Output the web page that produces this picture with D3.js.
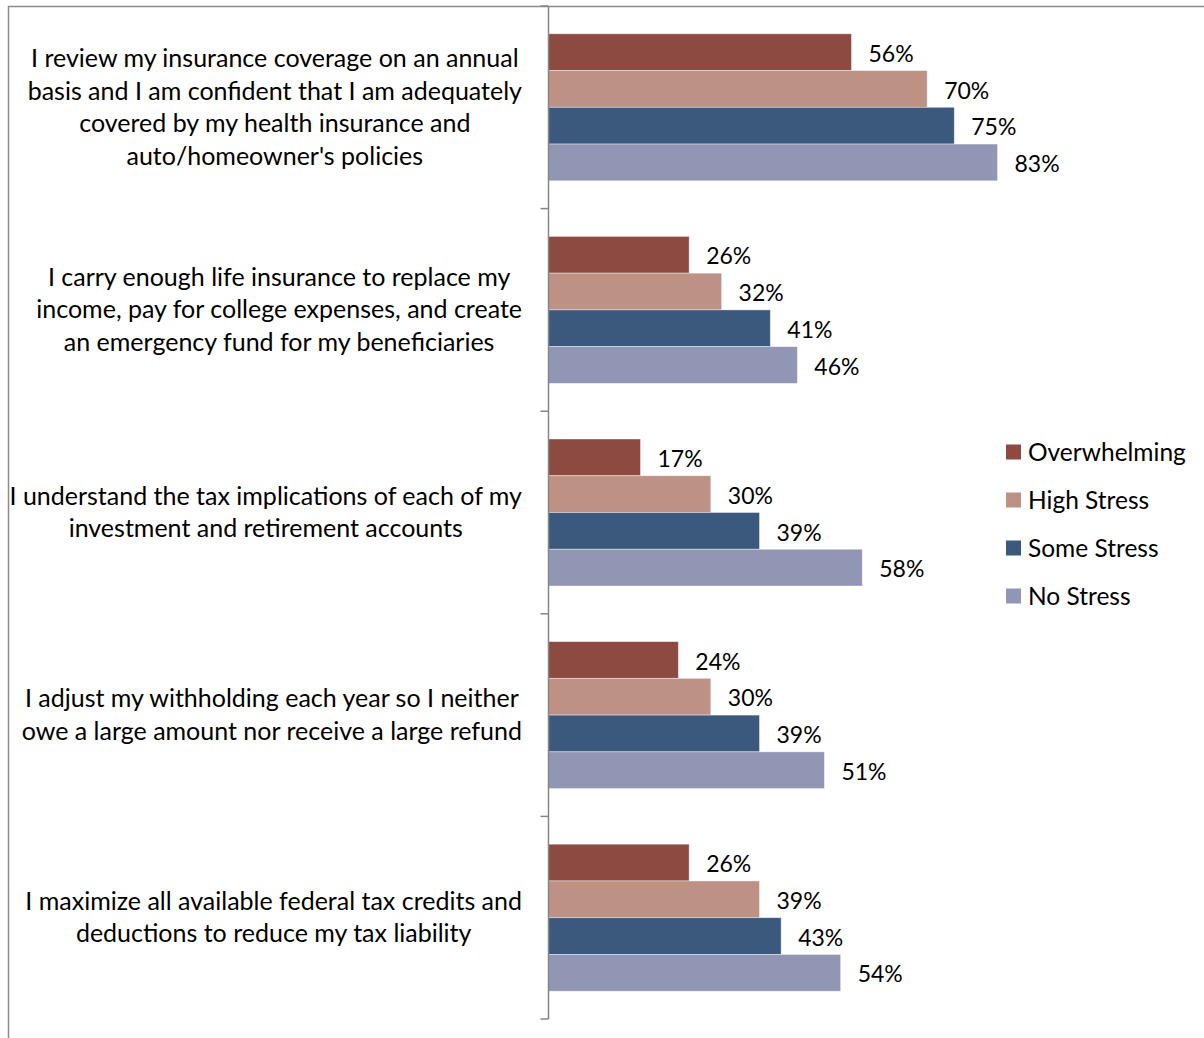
<!DOCTYPE html>
<html lang="en">
<head>
    <meta charset="UTF-8">
    <title>Insurance and tax habits by stress level</title>
    <script src="https://cdn.jsdelivr.net/npm/d3@7"></script>
    <style>
        body { margin: 0; background: #fff; }
        text { font-family: Lato, "Open Sans", sans-serif; fill: #000; }
    </style>
</head>
<body>
    <script>
        // data
        const categories = [
            ["I review my insurance coverage on an annual", "basis and I am confident that I am adequately", "covered by my health insurance and", "auto/homeowner's policies"],
            ["I carry enough life insurance to replace my", "income, pay for college expenses, and create", "an emergency fund for my beneficiaries"],
            ["I understand the tax implications of each of my", "investment and retirement accounts"],
            ["I adjust my withholding each year so I neither", "owe a large amount nor receive a large refund"],
            ["I maximize all available federal tax credits and", "deductions to reduce my tax liability"]
        ];
        const seriesNames = ["Overwhelming", "High Stress", "Some Stress", "No Stress"];
        const overwhelming = [56, 26, 17, 24, 26];
        const highStress = [70, 32, 30, 30, 39];
        const someStress = [75, 41, 39, 39, 43];
        const noStress = [83, 46, 58, 51, 54];
        const seriesValues = [overwhelming, highStress, someStress, noStress];
        const colors = ["#8C4A40", "#BE9185", "#3B587D", "#9196B4"];

        const width = 1204, height = 1038;
        const svg = d3.select("body").append("svg")
            .attr("width", width)
            .attr("height", height);

        // outer chart border (cropped at right and bottom)
        svg.append("path")
            .attr("d", "M8.5,1038 V6.5 H1204")
            .attr("fill", "none")
            .attr("stroke", "#8c8c8c")
            .attr("stroke-width", 1.5);

        const axisX = 548.5, plotTop = 6, plotBottom = 1019;
        const labelRight = 522;

        const y = d3.scaleBand()
            .domain(d3.range(categories.length))
            .range([plotTop, plotBottom])
            .paddingInner(0)
            .paddingOuter(0);

        const inner = d3.scaleBand()
            .domain(d3.range(seriesNames.length))
            .range([27.8, y.bandwidth() - 27.8]);

        const x = d3.scaleLinear()
            .domain([0, 100])
            .range([axisX, axisX + 541]);

        // bars
        const groups = svg.selectAll(".group")
            .data(categories)
            .enter().append("g")
            .attr("transform", (d, i) => `translate(0,${y(i)})`);

        groups.each(function (c, i) {
            const g = d3.select(this);
            seriesValues.forEach((vals, s) => {
                g.append("rect")
                    .attr("x", x(0))
                    .attr("y", inner(s))
                    .attr("width", x(vals[i]) - x(0))
                    .attr("height", inner.bandwidth())
                    .attr("fill", colors[s])
                    .attr("stroke", "#fff")
                    .attr("stroke-opacity", 0.5)
                    .attr("stroke-width", 0.8);
                g.append("text")
                    .attr("x", x(vals[i]) + 17)
                    .attr("y", inner(s) + inner.bandwidth() / 2)
                    .attr("dy", "0.42em")
                    .attr("font-size", 23)
                    .text(vals[i] + "%");
            });

            // category label: lines centred inside a block that ends at labelRight
            const lh = 32.5;
            const n = c.length;
            const tspans = g.append("text")
                .attr("text-anchor", "middle")
                .attr("font-size", 25)
                .selectAll("tspan")
                .data(c)
                .enter().append("tspan")
                .attr("y", (d, k) => y.bandwidth() / 2 + (k - (n - 1) / 2) * lh)
                .attr("dy", "0.34em")
                .text(d => d);
            const maxW = d3.max(tspans.nodes(), t => t.getComputedTextLength());
            tspans.attr("x", labelRight - maxW / 2);
        });

        // category axis
        const axis = svg.append("g")
            .attr("transform", `translate(${axisX},0)`);
        axis.append("line")
            .attr("y1", plotTop).attr("y2", plotBottom)
            .attr("stroke", "#868686").attr("stroke-width", 1.5);
        axis.selectAll(".tick")
            .data(d3.range(categories.length + 1))
            .enter().append("line")
            .attr("x1", -8).attr("x2", 0)
            .attr("y1", d => plotTop + d * y.step())
            .attr("y2", d => plotTop + d * y.step())
            .attr("stroke", "#868686").attr("stroke-width", 1.5);

        // legend
        const legend = svg.append("g")
            .attr("transform", "translate(1006,452)");
        seriesNames.forEach((name, s) => {
            const row = legend.append("g").attr("transform", `translate(0,${s * 48})`);
            row.append("rect")
                .attr("x", 0).attr("y", -7.5)
                .attr("width", 15).attr("height", 15)
                .attr("fill", colors[s]);
            row.append("text")
                .attr("x", 22)
                .attr("dy", "0.38em")
                .attr("font-size", 24.5)
                .text(name);
        });
    </script>
</body>
</html>
